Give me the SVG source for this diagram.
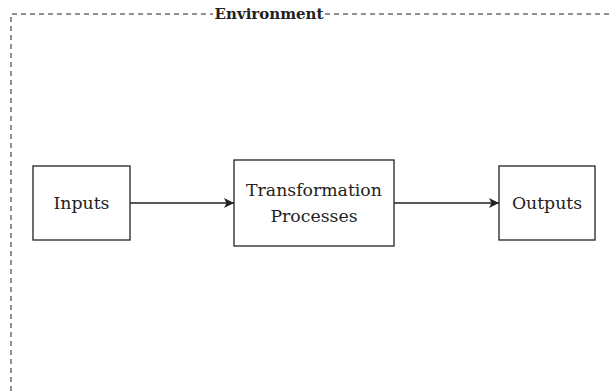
<svg xmlns="http://www.w3.org/2000/svg" width="610" height="391" viewBox="0 0 610 391">
<style>
.box{fill:#fff;stroke:#222;stroke-width:1.3}
.t{font-family:"DejaVu Serif",serif;font-size:17.3px;fill:#222;text-anchor:middle;dominant-baseline:central}
.env{fill:none;stroke:#222;stroke-width:1;stroke-dasharray:5 4}
.c{stroke:#222;stroke-width:1.3;fill:none;marker-end:url(#ah)}
</style>
<defs>
<marker id="ah" viewBox="0 0 10 10" refX="10" refY="5" markerWidth="10" markerHeight="10" markerUnits="userSpaceOnUse" orient="auto">
<path d="M0,0 L10,5 L0,10 L2.5,5 Z" fill="#222"/>
</marker>
</defs>
<rect width="610" height="391" fill="#fff"/>
<g id="environment">
<path class="env" d="M11,391 V14 H213"/>
<path class="env" d="M325,14 H610"/>
<text x="269" y="14" style="font-family:'DejaVu Serif',serif;font-size:15px;font-weight:bold;fill:#222;text-anchor:middle;dominant-baseline:central">Environment</text>
</g>
<g id="connectors">
<line class="c" x1="130" y1="203" x2="234" y2="203"/>
<line class="c" x1="394" y1="203" x2="499" y2="203"/>
</g>
<g id="inputs">
<rect class="box" x="33" y="166" width="97" height="74"/>
<text class="t" x="81.5" y="203">Inputs</text>
</g>
<g id="transformation">
<rect class="box" x="234" y="160" width="160" height="86"/>
<text class="t" x="314" y="190">Transformation</text>
<text class="t" x="314" y="216">Processes</text>
</g>
<g id="outputs">
<rect class="box" x="499" y="166" width="96" height="74"/>
<text class="t" x="547" y="203">Outputs</text>
</g>
</svg>
